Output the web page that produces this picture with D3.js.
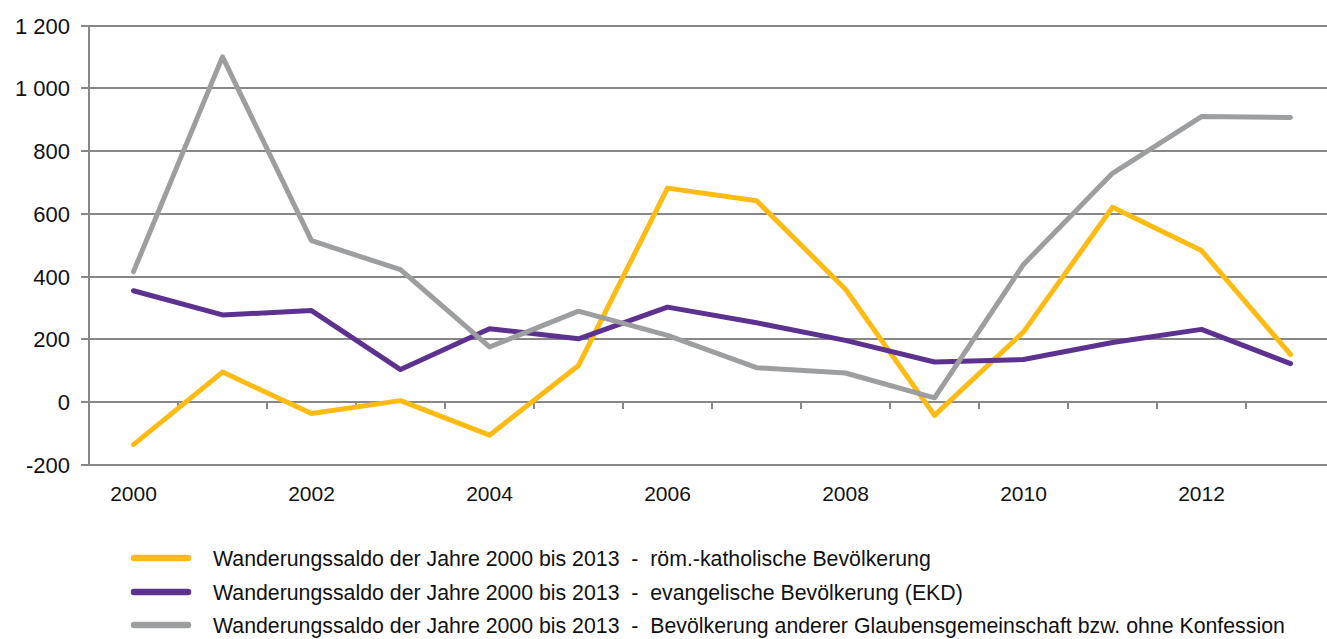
<!DOCTYPE html>
<meta charset="utf-8">
<head>
<style>
body {
  margin: 0;
  background: #fff;
  font-family: "Liberation Sans", Arial, sans-serif;
}
.grid line {
  stroke: #878787;
  stroke-width: 2px;
  shape-rendering: crispEdges;
}
.series {
  fill: none;
  stroke-width: 5px;
  stroke-linejoin: round;
  stroke-linecap: round;
}
.ylab {
  font-size: 22px;
  fill: #111;
}
.xlab {
  font-size: 21px;
  fill: #111;
}
.legend text {
  font-size: 21.3px;
  fill: #111;
  white-space: pre;
}
</style>
<script src="https://d3js.org/d3.v7.min.js"></script>
</head>
<body>
<div id="chart"></div>
<script>

var years = [2000, 2001, 2002, 2003, 2004, 2005, 2006, 2007, 2008, 2009, 2010, 2011, 2012, 2013];
var katholisch  = [-135, 96, -36, 5, -105, 117, 682, 642, 360, -42, 224, 621, 483, 152];
var evangelisch = [355, 278, 292, 104, 234, 202, 303, 253, 197, 128, 136, 190, 232, 123];
var andere      = [416, 1100, 515, 422, 176, 290, 213, 110, 93, 14, 439, 729, 910, 907];
var yTicks = [-200, 0, 200, 400, 600, 800, 1000, 1200];
var xLabels = [2000, 2002, 2004, 2006, 2008, 2010, 2012];
var seriesNames = [
  "Wanderungssaldo der Jahre 2000 bis 2013  -  röm.-katholische Bevölkerung",
  "Wanderungssaldo der Jahre 2000 bis 2013  -  evangelische Bevölkerung (EKD)",
  "Wanderungssaldo der Jahre 2000 bis 2013  -  Bevölkerung anderer Glaubensgemeinschaft bzw. ohne Konfession"
];
var seriesColors = ["#fdbb14", "#5d3190", "#9c9e9f"];

var width = 1327, height = 639;

var svg = d3.select("#chart").append("svg")
  .attr("width", width)
  .attr("height", height);

var x = d3.scaleBand()
  .domain(years)
  .range([89, 1335])
  .padding(0);

var y = d3.scaleLinear()
  .domain([-200, 1200])
  .range([465, 25.5]);

// horizontal gridlines (they stick out left of the axis like tick marks)
var grid = svg.append("g").attr("class", "grid");
grid.selectAll("line")
  .data(yTicks)
  .enter()
  .append("line")
    .attr("x1", 81)
    .attr("x2", width)
    .attr("y1", function(d) { return Math.round(y(d)); })
    .attr("y2", function(d) { return Math.round(y(d)); });

// y axis line
grid.append("line")
  .attr("x1", 89).attr("x2", 89)
  .attr("y1", Math.round(y(1200))).attr("y2", Math.round(y(-200)) + 1);

// category tick marks hanging off the zero line
grid.selectAll(".xtick")
  .data(years.slice(1))
  .enter()
  .append("line")
    .attr("class", "xtick")
    .attr("x1", function(d) { return x(d); })
    .attr("x2", function(d) { return x(d); })
    .attr("y1", Math.round(y(0)))
    .attr("y2", Math.round(y(0)) + 7);

// y labels, space as thousands separator, plain hyphen for minus
svg.selectAll(".ylab")
  .data(yTicks)
  .enter()
  .append("text")
    .attr("class", "ylab")
    .attr("x", 70)
    .attr("y", function(d) { return y(d) + 8; })
    .attr("text-anchor", "end")
    .text(function(d) { return d3.format(",")(d).replace(/,/g, " ").replace("\u2212", "-"); });

// x labels
svg.selectAll(".xlab")
  .data(xLabels)
  .enter()
  .append("text")
    .attr("class", "xlab")
    .attr("x", function(d) { return x(d) + x.bandwidth() / 2; })
    .attr("y", 501)
    .attr("text-anchor", "middle")
    .text(function(d) { return d; });

var allSeries = [katholisch, evangelisch, andere];

var line = d3.line()
  .x(function(d, i) { return x(years[i]) + x.bandwidth() / 2; })
  .y(function(d) { return y(d); });

svg.selectAll(".series")
  .data(allSeries)
  .enter()
  .append("path")
    .attr("class", "series")
    .attr("d", function(d) { return line(d); })
    .attr("stroke", function(d, i) { return seriesColors[i]; });

// legend (last row nudged up a little so it is not clipped)
var legendY = [558, 592, 625];
var legend = svg.append("g").attr("class", "legend");
var items = legend.selectAll("g")
  .data(seriesNames)
  .enter()
  .append("g")
    .attr("transform", function(d, i) { return "translate(0," + legendY[i] + ")"; });
items.append("line")
  .attr("x1", 134).attr("x2", 188)
  .attr("y1", 0).attr("y2", 0)
  .attr("stroke", function(d, i) { return seriesColors[i]; })
  .attr("stroke-width", 6.5)
  .attr("stroke-linecap", "round");
items.append("text")
  .attr("x", 213)
  .attr("y", 7.5)
  .text(function(d) { return d; });

</script>
</body>
</html>
